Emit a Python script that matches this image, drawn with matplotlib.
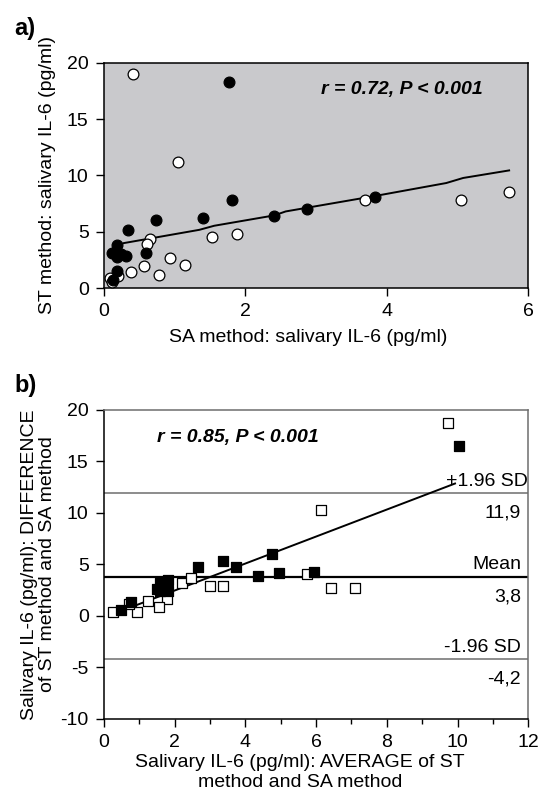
"""Salivary IL-6: ST vs SA method, scatter and Bland-Altman plot."""
import matplotlib
import matplotlib.pyplot as plt
from matplotlib.ticker import MultipleLocator

matplotlib.use("Agg")

plt.rcParams["font.family"] = ["Liberation Sans", "DejaVu Sans"]
plt.rcParams["axes.unicode_minus"] = False
FS = 14

# panel a: SA method (x) vs ST method (y)
a_open_x = [0.41, 1.05, 3.69, 5.05, 5.73, 0.65, 0.61, 1.53, 1.88, 0.94, 1.14,
            0.57, 0.38, 0.78, 0.09, 0.11, 0.20]
a_open_y = [19.0, 11.2, 7.8, 7.8, 8.5, 4.35, 3.9, 4.5, 4.85, 2.7, 2.07,
            1.97, 1.42, 1.18, 0.89, 0.53, 1.09]
a_fill_x = [1.77, 1.81, 0.73, 1.40, 0.34, 2.40, 2.87, 3.84, 0.60, 0.31, 0.19,
            0.12, 0.19, 0.24, 0.19, 0.13]
a_fill_y = [18.3, 7.8, 6.07, 6.19, 5.2, 6.37, 7.05, 8.09, 3.1, 2.9, 3.85,
            3.16, 2.75, 3.0, 1.56, 0.74]
a_fit_x = [0.28, 1.35, 1.56, 2.41, 2.57, 3.85, 4.84, 5.08, 5.73]
a_fit_y = [4.0, 5.18, 5.54, 6.46, 6.81, 8.2, 9.33, 9.78, 10.45]

# panel b: Bland-Altman (average vs difference)
b_open_x = [9.73, 6.15, 6.41, 7.10, 5.73, 2.99, 3.36, 2.21, 2.45, 1.79, 1.55,
            1.25, 0.94, 0.26, 0.72]
b_open_y = [18.67, 10.25, 2.68, 2.68, 4.1, 2.94, 2.94, 3.23, 3.65, 1.68, 0.87,
            1.45, 0.35, 0.39, 1.1]
b_fill_x = [10.05, 4.76, 3.36, 3.74, 2.67, 4.37, 4.94, 5.94, 1.82, 1.58, 1.51,
            1.82, 1.58, 0.78, 0.47]
b_fill_y = [16.5, 6.0, 5.3, 4.75, 4.75, 3.9, 4.14, 4.3, 3.46, 3.2, 2.62,
            2.39, 2.4, 1.32, 0.61]
b_fit_x = [0.47, 9.93]
b_fit_y = [0.45, 12.84]
mean_diff = 3.8
upper_loa = 11.9
lower_loa = -4.2

fig = plt.figure(figsize=(5.44, 8.05), dpi=100)

# ---- a) ----
ax = fig.add_axes([0.191, 0.642, 0.780, 0.280])
ax.set_facecolor("#c9c9cc")
ax.plot(a_fit_x, a_fit_y, color="black", lw=1.4, zorder=2)
ax.scatter(a_open_x, a_open_y, s=60, facecolor="white", edgecolor="black",
           lw=0.9, zorder=3)
ax.scatter(a_fill_x, a_fill_y, s=60, facecolor="black", edgecolor="black",
           lw=0.9, zorder=4)
ax.set_xlim(0, 6)
ax.set_ylim(0, 20)
ax.set_xticks([0, 2, 4, 6])
ax.set_yticks([0, 5, 10, 15, 20])
ax.tick_params(labelsize=FS, direction="out", length=6, width=1, pad=5)
for sp in ax.spines.values():
    sp.set_linewidth(1.1)
ax.set_xlabel("SA method: salivary IL-6 (pg/ml)", fontsize=FS, labelpad=6)
ax.xaxis.label.set_x(0.481)
ax.set_ylabel("ST method: salivary IL-6 (pg/ml)", fontsize=FS, labelpad=8)
ax.text(5.35, 17.6, "r = 0.72, P < 0.001", fontsize=FS, fontweight="bold",
        fontstyle="italic", ha="right", va="center")
fig.text(0.026, 0.965, "a)", fontsize=17, fontweight="bold", va="center")

# ---- b) ----
bx = fig.add_axes([0.191, 0.107, 0.780, 0.384])
bx.axhline(upper_loa, color="#6e6e6e", lw=1.1, zorder=1)
bx.axhline(lower_loa, color="#6e6e6e", lw=1.1, zorder=1)
bx.axhline(mean_diff, color="black", lw=1.6, zorder=1)
bx.plot(b_fit_x, b_fit_y, color="black", lw=1.4, zorder=2)
bx.scatter(b_open_x, b_open_y, marker="s", s=42, facecolor="white",
           edgecolor="black", lw=0.9, zorder=3)
bx.scatter(b_fill_x, b_fill_y, marker="s", s=50, facecolor="black",
           edgecolor="black", lw=0.9, zorder=4)
bx.set_xlim(0, 12)
bx.set_ylim(-10, 20)
bx.set_xticks(range(0, 13, 2))
bx.xaxis.set_minor_locator(MultipleLocator(1))
bx.set_yticks(range(-10, 21, 5))
bx.tick_params(labelsize=FS, direction="out", length=6, width=1, pad=5)
bx.tick_params(axis="x", which="minor", direction="out", length=3.5, width=1)
bx.spines["top"].set_color("#6e6e6e")
bx.spines["right"].set_color("#6e6e6e")
for sp in bx.spines.values():
    sp.set_linewidth(1.1)
bx.set_xlabel("Salivary IL-6 (pg/ml): AVERAGE of ST\nmethod and SA method",
              fontsize=FS, labelpad=2, linespacing=1.2)
bx.xaxis.label.set_x(0.462)
bx.set_ylabel("Salivary IL-6 (pg/ml): DIFFERENCE\nof ST method and SA method",
              fontsize=FS, labelpad=3, linespacing=1.12)
bx.text(1.5, 17.3, "r = 0.85, P < 0.001", fontsize=FS, fontweight="bold",
        fontstyle="italic", ha="left", va="center")
tx = 11.8
bx.text(12.0, upper_loa + 1.1, "+1.96 SD", fontsize=FS, ha="right", va="center")
bx.text(tx, upper_loa - 1.9, "11,9", fontsize=FS, ha="right", va="center")
bx.text(tx, mean_diff + 1.15, "Mean", fontsize=FS, ha="right", va="center")
bx.text(tx, mean_diff - 1.95, "3,8", fontsize=FS, ha="right", va="center")
bx.text(tx, lower_loa + 1.15, "-1.96 SD", fontsize=FS, ha="right", va="center")
bx.text(tx, lower_loa - 1.95, "-4,2", fontsize=FS, ha="right", va="center")
fig.text(0.026, 0.521, "b)", fontsize=17, fontweight="bold", va="center")

fig.savefig("out.png", dpi=100)
